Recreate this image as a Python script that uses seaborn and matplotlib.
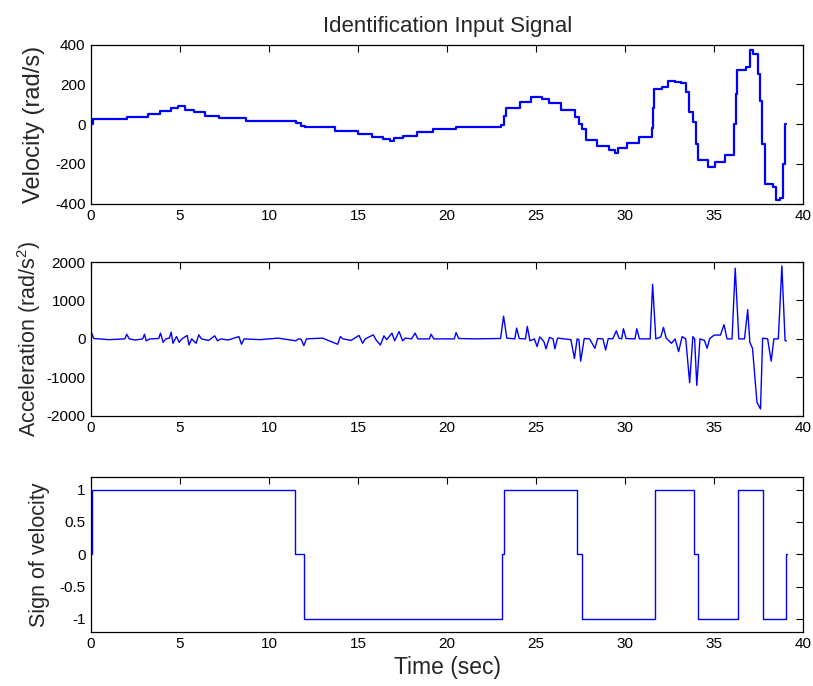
import matplotlib
matplotlib.use('Agg')
import matplotlib.pyplot as plt
import seaborn as sns

# velocity (rad/s), piecewise levels: (time, value), drawn as steps
vel_samples = [
  (0.0, 0), (0.13, 24), (2.0, 38), (3.2, 52), (3.9, 68), (4.5, 82), (4.9, 90),
  (5.3, 73), (5.8, 59), (6.4, 43), (7.2, 33), (8.7, 17), (11.5, 5), (11.8, -8),
  (12.0, -15), (13.7, -33), (15.0, -49), (15.8, -63), (16.4, -75), (16.8, -87),
  (17.0, -70), (17.5, -57), (18.3, -40), (19.2, -26), (20.5, -12), (23.0, -5),
  (23.2, 40), (23.3, 82), (24.1, 113), (24.7, 139), (25.3, 125), (25.7, 104),
  (26.4, 70), (27.2, 35), (27.4, 3), (27.6, -23), (27.8, -78), (28.4, -110),
  (29.1, -132), (29.4, -144), (29.6, -118), (30.1, -94), (30.8, -66), (31.5, -20),
  (31.55, 80), (31.6, 177), (32.05, 186), (32.4, 219), (32.8, 212), (33.15, 207),
  (33.4, 160), (33.6, 60), (33.8, 9), (34.0, -100), (34.1, -180), (34.65, -215),
  (35.05, -192), (35.6, -157), (36.1, 0), (36.2, 150), (36.3, 273), (36.8, 287),
  (37.0, 372), (37.2, 351), (37.45, 250), (37.55, 117), (37.7, -100),
  (37.85, -301), (38.3, -318), (38.45, -383), (38.7, -370), (38.85, -200),
  (38.95, 3), (39.05, 3),
]

# acceleration (rad/s^2): (time, value)
acc_samples = [
  (0.0, 190), (0.15, 10), (1.0, -20), (1.9, 0), (2.0, 120), (2.15, 0), (2.5, -30),
  (2.9, 0), (3.0, 120), (3.1, -50), (3.3, 0), (3.8, 10), (3.9, 150), (4.05, -90),
  (4.2, 0), (4.4, 20), (4.5, 175), (4.6, -115), (4.8, 60), (4.95, -90), (5.1, 0),
  (5.4, 90), (5.5, -160), (5.65, 0), (5.9, -115), (6.05, 105), (6.2, 0),
  (6.6, -40), (6.95, 80), (7.1, -50), (7.3, 0), (7.7, -30), (8.3, 60),
  (8.45, -140), (8.6, 0), (9.5, -20), (10.5, 20), (11.5, -50), (11.65, 0),
  (11.8, -10), (11.95, -175), (12.1, 0), (13.0, 20), (13.85, -140), (14.0, 60),
  (14.15, 0), (14.6, -40), (15.05, 90), (15.25, -115), (15.4, 0), (15.85, 105),
  (16.0, -20), (16.25, -160), (16.45, 80), (16.6, -20), (16.9, 150), (17.05, -50),
  (17.3, 190), (17.5, -50), (17.65, 20), (18.0, 0), (18.2, 150), (18.35, 0),
  (19.0, 0), (19.1, 120), (19.25, 0), (20.4, 0), (20.5, 165), (20.65, 10),
  (21.5, 0), (23.0, 10), (23.17, 590), (23.35, 20), (23.8, 0), (23.9, 280),
  (24.05, 10), (24.4, 0), (24.5, 325), (24.65, -50), (24.9, 0), (25.05, -200),
  (25.2, 50), (25.35, -20), (25.45, -90), (25.55, -260), (25.75, 40), (25.95, 0),
  (26.05, -260), (26.2, 20), (26.6, 0), (26.95, -20), (27.15, -510), (27.3, 0),
  (27.4, -20), (27.5, -580), (27.7, 10), (28.0, 0), (28.3, -245), (28.45, 10),
  (28.75, 0), (28.9, -290), (29.05, 10), (29.3, 0), (29.5, 210), (29.65, 20),
  (29.8, 0), (29.9, 265), (30.05, 10), (30.55, 0), (30.65, 265), (30.8, 0),
  (31.4, 0), (31.54, 1420), (31.72, 0), (32.0, 50), (32.15, 300), (32.3, 20),
  (32.6, -115), (32.8, 0), (33.0, -330), (33.2, 60), (33.4, 0), (33.62, -1140),
  (33.8, 60), (33.9, 0), (34.02, -1210), (34.2, 0), (34.45, -40), (34.6, -245),
  (34.75, 10), (35.0, 100), (35.35, 100), (35.55, 370), (35.72, 0), (36.0, 0),
  (36.18, 1840), (36.38, 0), (36.7, 0), (36.88, 760), (37.0, -90), (37.15, -245),
  (37.4, -1650), (37.6, -1825), (37.72, 20), (38.0, 0), (38.2, -580), (38.35, 0),
  (38.6, 0), (38.8, 1900), (38.98, -50), (39.05, -50),
]

# sign of velocity: (time, value), drawn as steps
sign_samples = [
  (0.0, 0), (0.08, 1), (11.45, 0), (11.95, -1), (23.1, 0), (23.2, 1), (27.3, 0),
  (27.6, -1), (31.65, 1), (33.85, 0), (34.1, -1), (36.35, 1), (37.75, -1),
  (39.05, 0), (39.1, 0),
]

vel_t, vel_v = zip(*vel_samples)
acc_t, acc_v = zip(*acc_samples)
sign_t, sign_v = zip(*sign_samples)

x_ticks = list(range(0, 41, 5))
vel_ticks = [-400, -200, 0, 200, 400]
acc_ticks = [-2000, -1000, 0, 1000, 2000]
sign_ticks = [-1, -0.5, 0, 0.5, 1]


def style_axes(ax):
  ax.set_xlim(0, 40)
  ax.set_xticks(x_ticks)
  ax.tick_params(direction='in', length=5, width=0.8, top=True, right=True,
                 labelsize=11, colors='black', pad=4)
  for s in ax.spines.values():
    s.set_visible(True)
    s.set_color('black')
    s.set_linewidth(0.9)
  ax.set_xlabel('')


def main():
  sns.set_theme(style='white')
  plt.rcParams['font.family'] = ['Liberation Sans', 'DejaVu Sans']
  plt.rcParams['axes.unicode_minus'] = False
  plt.rcParams['mathtext.fontset'] = 'custom'
  plt.rcParams['mathtext.rm'] = 'Liberation Sans'
  plt.rcParams['mathtext.it'] = 'Liberation Sans'

  fig = plt.figure(figsize=(8.13, 6.86), dpi=100)
  ax1 = fig.add_axes([0.112, 0.703, 0.876, 0.232])
  ax2 = fig.add_axes([0.112, 0.394, 0.876, 0.224])
  ax3 = fig.add_axes([0.112, 0.079, 0.876, 0.226])

  sns.lineplot(x=vel_t, y=vel_v, ax=ax1, color='blue', linewidth=1.6,
               drawstyle='steps-post', estimator=None, sort=False)
  ax1.set_ylim(-400, 400)
  ax1.set_yticks(vel_ticks)
  style_axes(ax1)
  ax1.set_ylabel('Velocity (rad/s)', fontsize=17)
  ax1.yaxis.set_label_coords(-0.065, 0.5)
  ax1.set_title('Identification Input Signal', fontsize=16, pad=9)

  sns.lineplot(x=acc_t, y=acc_v, ax=ax2, color='blue', linewidth=1.0,
               estimator=None, sort=False)
  ax2.set_ylim(-2000, 2000)
  ax2.set_yticks(acc_ticks)
  style_axes(ax2)
  ax2.set_ylabel('Acceleration (rad/s$^2$)', fontsize=15.5)
  ax2.yaxis.set_label_coords(-0.067, 0.5)

  sns.lineplot(x=sign_t, y=sign_v, ax=ax3, color='blue', linewidth=1.0,
               drawstyle='steps-post', estimator=None, sort=False)
  ax3.set_ylim(-1.2, 1.2)
  ax3.set_yticks(sign_ticks)
  ax3.set_yticklabels(['-1', '-0.5', '0', '0.5', '1'])
  style_axes(ax3)
  ax3.set_ylabel('Sign of velocity', fontsize=15.5)
  ax3.yaxis.set_label_coords(-0.058, 0.5)
  ax3.set_xlabel('Time (sec)', fontsize=16.5, labelpad=3)

  fig.savefig('out.png', dpi=100, facecolor='white')


if __name__ == '__main__':
  main()
